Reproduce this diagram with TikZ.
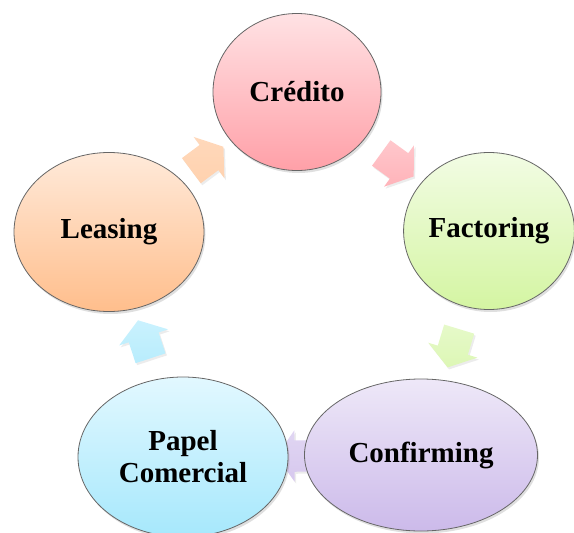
\documentclass[tikz,border=0pt]{standalone}
\usepackage{fontspec}
\setmainfont{Liberation Serif}
\usepackage{xcolor}
\usepackage{tikz}
\usetikzlibrary{shapes.geometric}
\usetikzlibrary{shapes.arrows}
\usetikzlibrary{shadows}
\usetikzlibrary{backgrounds}

\definecolor{creA}{RGB}{255,226,228}
\definecolor{creB}{RGB}{255,160,168}
\definecolor{facA}{RGB}{242,252,228}
\definecolor{facB}{RGB}{212,245,162}
\definecolor{conA}{RGB}{238,232,248}
\definecolor{conB}{RGB}{204,186,234}
\definecolor{papA}{RGB}{226,248,255}
\definecolor{papB}{RGB}{166,232,252}
\definecolor{leaA}{RGB}{255,234,218}
\definecolor{leaB}{RGB}{255,190,140}

\begin{document}
\begin{tikzpicture}[x=1pt,y=-1pt,
  ciclo/.style={ellipse,draw=black!60,line width=0.8pt,inner sep=0pt,align=center,
    font=\fontsize{29}{32}\selectfont\bfseries,
    drop shadow={opacity=0.25,shadow xshift=1.5pt,shadow yshift=-2.5pt}},
  flecha/.style={single arrow,minimum height=40pt,inner xsep=0pt,inner ysep=15.5pt,
    single arrow head extend=10pt,single arrow tip angle=110,
    sloped,allow upside down,
    drop shadow={opacity=0.15,shadow xshift=1.5pt,shadow yshift=-2pt}}]
\useasboundingbox (0,0) rectangle (574,533);
% los cinco productos
\node[ciclo,minimum width=168pt,minimum height=157pt,top color=creA,bottom color=creB] (cre) at (297,92) {Crédito};
\node[ciclo,minimum width=170pt,minimum height=157pt,top color=facA,bottom color=facB] (fac) at (489,231) {Factoring};
\node[ciclo,minimum width=233pt,minimum height=152pt,top color=conA,bottom color=conB] (con) at (421,455) {Confirming};
\node[ciclo,minimum width=210pt,minimum height=160pt,top color=papA,bottom color=papB] (pap) at (183,457) {Papel\\Comercial};
\node[ciclo,minimum width=190pt,minimum height=159pt,top color=leaA,bottom color=leaB] (lea) at (109,232) {Leasing};
% flechas detras de las elipses
\begin{scope}[on background layer]
\path (lea.center) -- node[flecha,top color=leaA!60!leaB,bottom color=leaB!70] (f1) {} (cre.center);
\path (cre.center) -- node[flecha,top color=creA!60!creB,bottom color=creB!80] (f2) {} (fac.center);
\path (fac.center) -- node[flecha,top color=facA!60!facB,bottom color=facB!80] (f3) {} (con.center);
\path (con.center) -- node[flecha,top color=conA!60!conB,bottom color=conB!80] (f4) {} (pap.center);
\path (pap.center) -- node[flecha,top color=papA!60!papB,bottom color=papB!80] (f5) {} (lea.center);
\end{scope}
\end{tikzpicture}
\end{document}
